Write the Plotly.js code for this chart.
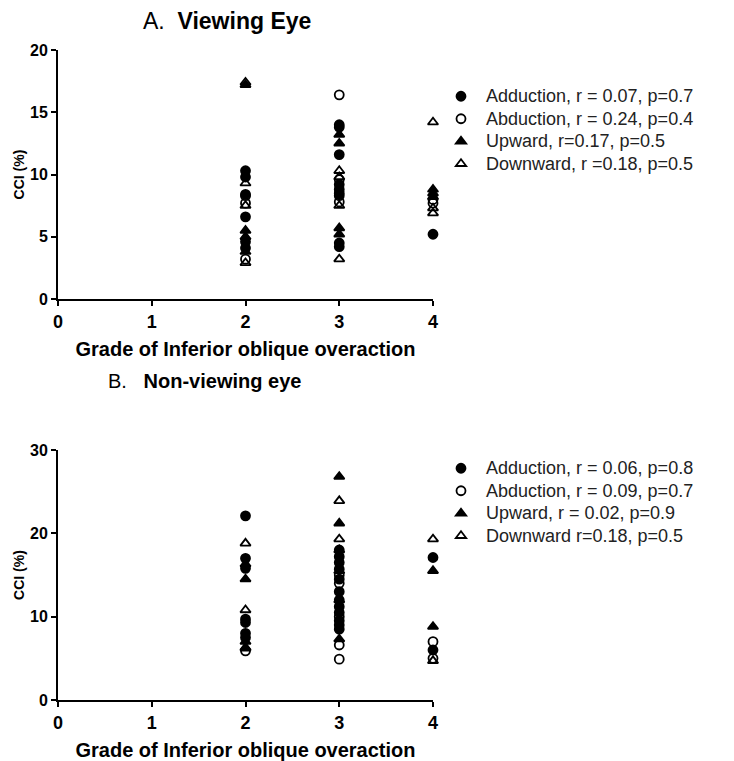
<!DOCTYPE html>
<html>
<head>
<meta charset="utf-8">
<script src="https://cdn.plot.ly/plotly-3.0.1.min.js"></script>
<style>html,body{margin:0;padding:0;background:#fff;}#chart{width:734px;height:761px;}</style>
</head>
<body>
<div id="chart"></div>
<script>
// ---- Panel A: Viewing Eye ----
const A_adduction_x = [2,2,2,2,2,2, 3,3,3,3,3,3,3,3, 4];
const A_adduction_y = [10.3,9.8,8.4,6.6,4.6,4.1, 14.0,13.8,11.6,9.2,8.8,8.3,4.5,4.2, 5.2];
const A_abduction_x = [2,2,2, 3,3,3,3, 4,4];
const A_abduction_y = [8.3,7.7,3.2, 16.4,9.6,8.5,7.8, 8.0,7.7];
const A_upward_x = [2,2,2,2, 3,3,3,3, 4,4,4];
const A_upward_y = [17.2,5.5,5.0,3.8, 13.2,12.5,5.7,5.2, 8.8,8.5,8.2];
const A_downward_x = [2,2,2,2, 3,3,3,3, 4,4,4];
const A_downward_y = [17.4,9.3,7.5,2.9, 10.3,9.8,7.5,3.2, 14.2,7.3,6.9];

// ---- Panel B: Non-viewing eye ----
const B_adduction_x = [2,2,2,2,2,2,2, 3,3,3,3,3,3,3,3,3,3,3,3, 4,4];
const B_adduction_y = [22.1,17.0,15.8,9.7,9.3,8.0,7.5, 18.0,17.2,16.5,15.7,14.5,13.0,12.0,11.2,10.5,9.5,9.0,8.5, 17.1,6.0];
const B_abduction_x = [2, 3,3,3,3,3, 4,4];
const B_abduction_y = [5.9, 15.0,14.0,10.0,6.6,4.9, 7.0,5.0];
const B_upward_x = [2,2,2,2, 3,3,3,3, 4,4];
const B_upward_y = [16.3,14.5,7.0,6.3, 26.8,21.2,18.0,7.3, 15.5,8.8];
const B_downward_x = [2,2,2, 3,3,3,3, 4,4];
const B_downward_y = [18.8,10.8,6.2, 23.9,19.3,15.5,12.0, 19.3,4.7];

const A_names = ["Adduction, r = 0.07, p=0.7","Abduction, r = 0.24, p=0.4","Upward, r=0.17, p=0.5","Downward, r =0.18, p=0.5"];
const B_names = ["Adduction, r = 0.06, p=0.8","Abduction, r = 0.09, p=0.7","Upward, r = 0.02, p=0.9","Downward r=0.18, p=0.5"];
const xTicks = [0,1,2,3,4];
const A_yTicks = [0,5,10,15,20];
const B_yTicks = [0,10,20,30];

const symbols = ["circle","circle-open","triangle-up","triangle-up-open"];
const FONT = "Liberation Sans, Arial, sans-serif";

function big(s){ return '<span style="font-size:18px">' + s + '</span>'; }

function tr(x,y,i,name,xa,ya,leg,grp){
  return {x:x,y:y,type:"scatter",mode:"markers",name:big(name),xaxis:xa,yaxis:ya,legend:leg,
    legendgroup:grp,cliponaxis:false,
    marker:{symbol:symbols[i],size:9,color:"#000",line:{color:"#000",width:1.8}}};
}
const data = [
  tr(A_adduction_x,A_adduction_y,0,A_names[0],"x","y","legend","a0"),
  tr(A_abduction_x,A_abduction_y,1,A_names[1],"x","y","legend","a1"),
  tr(A_upward_x,A_upward_y,2,A_names[2],"x","y","legend","a2"),
  tr(A_downward_x,A_downward_y,3,A_names[3],"x","y","legend","a3"),
  tr(B_adduction_x,B_adduction_y,0,B_names[0],"x2","y2","legend2","b0"),
  tr(B_abduction_x,B_abduction_y,1,B_names[1],"x2","y2","legend2","b1"),
  tr(B_upward_x,B_upward_y,2,B_names[2],"x2","y2","legend2","b2"),
  tr(B_downward_x,B_downward_y,3,B_names[3],"x2","y2","legend2","b3")
];

function xax(anchor){
  return {domain:[58/734,433/734],range:[0,4],anchor:anchor,tickvals:xTicks,ticktext:xTicks.map(String),
    showline:true,linecolor:"#000",linewidth:2,ticks:"outside",ticklen:5,tickwidth:2,tickcolor:"#000",
    showgrid:false,zeroline:false,
    tickfont:{family:FONT,size:18,color:"#000",weight:"bold"},
    title:{text:"<b>Grade of Inferior oblique overaction</b>",font:{family:FONT,size:20,color:"#000"},standoff:11}};
}
function yax(anchor,dom,rng,tv){
  return {domain:dom,range:rng,anchor:anchor,tickvals:tv,ticktext:tv.map(String),
    showline:true,linecolor:"#000",linewidth:2,ticks:"outside",ticklen:5,tickwidth:2,tickcolor:"#000",
    showgrid:false,zeroline:false,
    tickfont:{family:FONT,size:16,color:"#000",weight:"bold"},
    title:{text:"<b>CCI (%)</b>",font:{family:FONT,size:14,color:"#000"},standoff:2}};
}
const legCommon = {font:{family:FONT,size:15,color:"#222"},bgcolor:"rgba(0,0,0,0)",borderwidth:0,
  traceorder:"grouped",tracegroupgap:0,xanchor:"left",yanchor:"top",itemwidth:40};

const layout = {
  width:734,height:761,margin:{l:0,r:0,t:0,b:0},paper_bgcolor:"#fff",plot_bgcolor:"#fff",
  xaxis:xax("y"),
  yaxis:yax("x",[1-299/761,1-50/761],[0,20],A_yTicks),
  xaxis2:xax("y2"),
  yaxis2:yax("x2",[1-700/761,1-450/761],[0,30],B_yTicks),
  legend:Object.assign({x:436/734,y:1-80/761},legCommon),
  legend2:Object.assign({x:436/734,y:1-452/761},legCommon),
  annotations:[
    {xref:"paper",yref:"paper",x:141/734,y:1-21/761,xanchor:"left",yanchor:"middle",showarrow:false,
     text:"A.  <b>Viewing Eye</b>",font:{family:FONT,size:23,color:"#000"}},
    {xref:"paper",yref:"paper",x:106/734,y:1-381/761,xanchor:"left",yanchor:"middle",showarrow:false,
     text:"B.   <b>Non-viewing eye</b>",font:{family:FONT,size:20,color:"#000"}}
  ],
  showlegend:true
};
Plotly.newPlot("chart",data,layout,{displayModeBar:false,staticPlot:true});
</script>
</body>
</html>
